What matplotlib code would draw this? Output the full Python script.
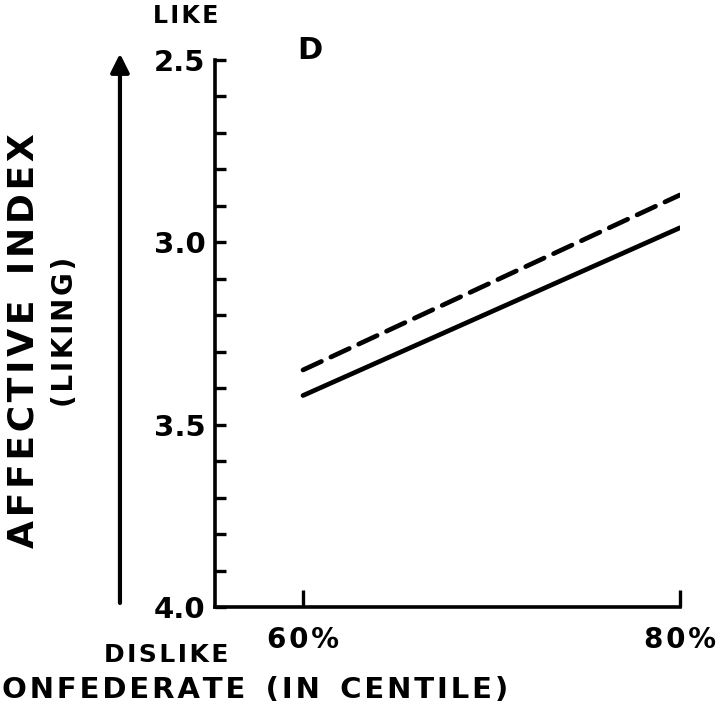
import numpy as np
import matplotlib.pyplot as plt

# dislike of confederate (centile) vs affective index
x_pct = [60, 80]
solid_vals = [3.42, 2.96]
dashed_vals = [3.35, 2.87]
y_ticks = [2.5, 3.0, 3.5, 4.0]
y_ticklabels = ['2.5', '3.0', '3.5', '4.0']
x_ticklabels = ['60%', '80%']

plt.rcParams['font.family'] = 'DejaVu Sans'
plt.rcParams['font.weight'] = 'bold'

def spaced(s):
    # lettering in the scan is set with wide tracking
    return '\u200a'.join(s)

fig = plt.figure(figsize=(7.27, 7.06), dpi=100)
ax = fig.add_axes([0.2957, 0.1402, 0.6397, 0.7748])

ax.plot(x_pct, solid_vals, color='black', lw=3.4, solid_capstyle='round')
ax.plot(x_pct, dashed_vals, color='black', lw=3.4, dashes=(4.3, 2.2), dash_capstyle='round')

ax.set_xlim(55.33, 80)
ax.set_ylim(4.0, 2.5)

for s in ['top', 'right']:
    ax.spines[s].set_visible(False)
for s in ['left', 'bottom']:
    ax.spines[s].set_linewidth(2.6)

ax.set_yticks(np.arange(2.5, 4.01, 0.1), minor=True)
ax.set_yticks(y_ticks)
ax.set_yticklabels(y_ticklabels, fontsize=21)
ax.tick_params(axis='y', which='both', direction='in', length=8, width=2.4, pad=7)
ax.set_xticks(x_pct)
ax.set_xticklabels([spaced(t) for t in x_ticklabels], fontsize=20)
ax.tick_params(axis='x', direction='in', length=12, width=2.4, pad=14)

fig.text(0.426, 0.929, 'D', fontsize=22, ha='center', va='center')
fig.text(0.255, 0.977, spaced('LIKE'), fontsize=17, ha='center', va='center')
fig.text(0.229, 0.072, spaced('DISLIKE'), fontsize=18, ha='center', va='center')
fig.text(0.003, 0.022, spaced('ONFEDERATE') + '  ' + spaced('(IN') + '  ' + spaced('CENTILE)'),
         fontsize=21, ha='left', va='center')
fig.text(0.033, 0.518, spaced('AFFECTIVE') + '  ' + spaced('INDEX'), fontsize=26, rotation=90,
         ha='center', va='center')
fig.text(0.089, 0.530, spaced('(LIKING)'), fontsize=20, rotation=90, ha='center', va='center')

ax.annotate('', xy=(0.165, 0.928), xytext=(0.165, 0.142), xycoords='figure fraction',
            arrowprops=dict(arrowstyle='-|>', color='black', lw=3, mutation_scale=28))

fig.savefig('out.png', dpi=100)
